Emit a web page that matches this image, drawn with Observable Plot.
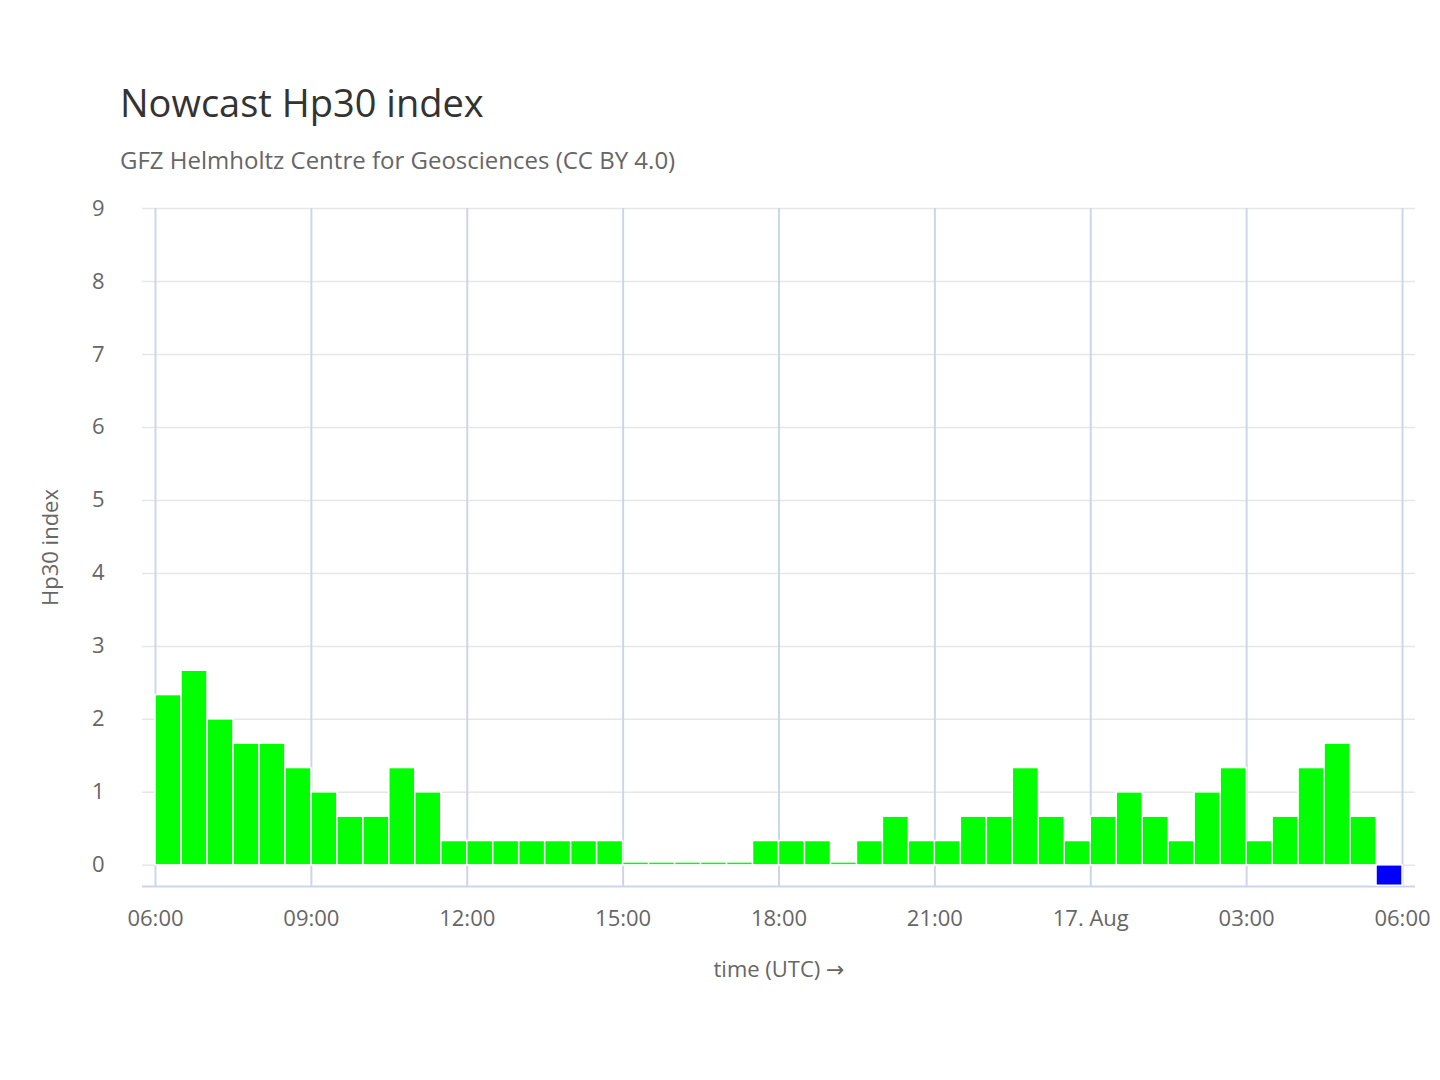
<!DOCTYPE html>
<html><head><meta charset="utf-8">
<script src="https://cdn.jsdelivr.net/npm/d3@7"></script>
<script src="https://cdn.jsdelivr.net/npm/@observablehq/plot@0.6"></script>
<style>
body{margin:0;background:#fff;font-family:"Open Sans","DejaVu Sans",sans-serif;}
#t{position:absolute;left:120px;top:76px;font-size:38px;color:#333;}
#s{position:absolute;left:120px;top:143px;font-size:24px;color:#666;}
#c{position:absolute;left:0;top:190px;}
</style></head><body>
<div id="t">Nowcast Hp30 index</div>
<div id="s">GFZ Helmholtz Centre for Geosciences (CC BY 4.0)</div>
<div id="c"></div>
<script>
const startTime = "2024-08-16T06:00:00Z";
const hp30 = [2.333,2.667,2,1.667,1.667,1.333,1,0.667,0.667,1.333,1,
0.333,0.333,0.333,0.333,0.333,0.333,0.333,
0,0,0,0,0,
0.333,0.333,0.333,0,0.333,0.667,0.333,0.333,0.667,0.667,1.333,0.667,0.333,0.667,1,0.667,0.333,1,1.333,0.333,0.667,1.333,1.667,0.667];
const forecast = [-0.28];
const yTicks = [0,1,2,3,4,5,6,7,8,9];
const step = 30*60*1000;
const t0 = new Date(startTime).getTime();
const data = hp30.map((v,i)=>({t1:new Date(t0+i*step),t2:new Date(t0+(i+1)*step),v,kind:"now"}))
  .concat(forecast.map((v,i)=>({t1:new Date(t0+(hp30.length+i)*step),t2:new Date(t0+(hp30.length+i+1)*step),v,kind:"fc"})));
const xTicks = d3.range(9).map(i=>new Date(t0+i*3*3600*1000));
const fmt = d=> d.getUTCHours()===0 ? d.getUTCDate()+". Aug" : d3.utcFormat("%H:%M")(d);
const chart = Plot.plot({
  width:1440,height:820,marginLeft:142,marginRight:25,marginTop:18,marginBottom:124,
  style:{fontFamily:"Open Sans, DejaVu Sans, sans-serif",fontSize:"22px",color:"#666"},
  x:{type:"utc",domain:[new Date(t0-0.5*step), new Date(t0+48.5*step)],ticks:xTicks,tickFormat:fmt,tickSize:0,tickPadding:24,label:"time (UTC)",labelAnchor:"center",labelOffset:90},
  y:{domain:[-0.29,9],ticks:yTicks,tickSize:0,tickPadding:38,label:"Hp30 index",labelAnchor:"center",labelOffset:100},
  marks:[
    Plot.gridY(yTicks,{stroke:"#e6e6e6",strokeOpacity:1,strokeWidth:1.5}),
    Plot.ruleY([-0.29],{stroke:"#ccd6eb",strokeWidth:2}),
    Plot.tickX(xTicks,{x:d=>d,y1:-0.29,y2:-0.43,stroke:"#ccd6eb",strokeWidth:2}),
    Plot.rect(data,{x1:"t1",x2:"t2",y1:0,y2:d=>d.v===0?0.04:d.v,fill:d=>d.kind==="fc"?"#0000ff":"#00ff00",stroke:"#fff",strokeWidth:1.5}),
    Plot.axisX({ticks:xTicks,tickFormat:fmt,tickSize:0,tickPadding:24,label:"time (UTC)",labelAnchor:"center",labelOffset:90,fontSize:22}),
    Plot.axisY({ticks:yTicks,tickSize:0,tickPadding:38,label:"Hp30 index",labelAnchor:"center",labelOffset:100,labelArrow:"none",fontSize:22})
  ]
});
chart.querySelectorAll("[aria-label$='label'] text, text[aria-label]").forEach(()=>{});
document.getElementById("c").appendChild(chart);
</script></body></html>
